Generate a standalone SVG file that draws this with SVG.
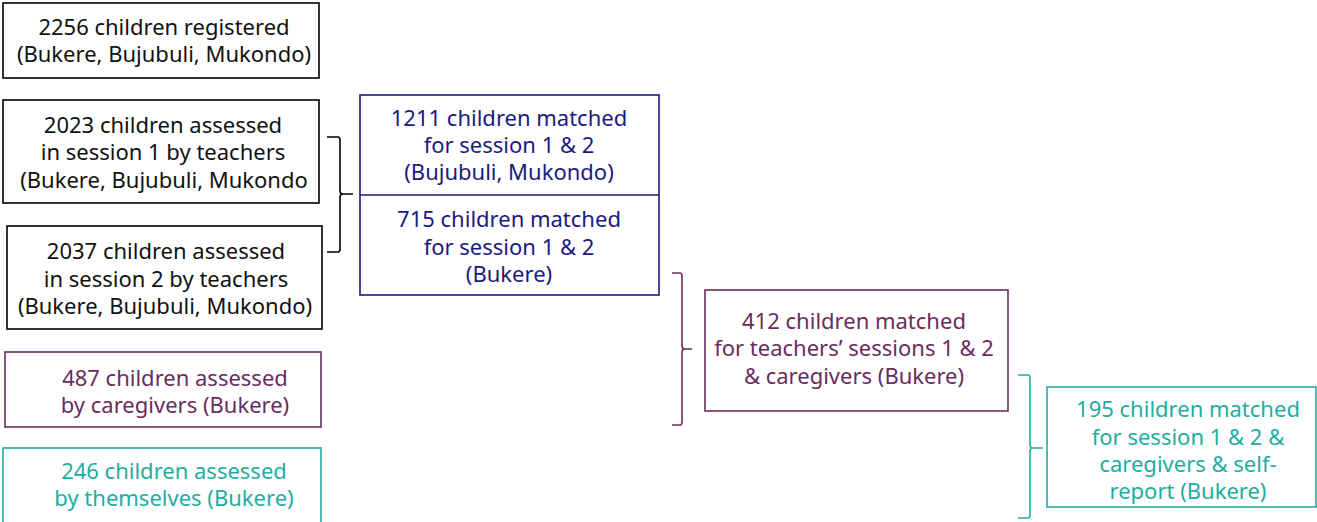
<svg xmlns="http://www.w3.org/2000/svg" width="1317" height="522" viewBox="0 0 1317 522">
<style>
text{font-family:"Noto Sans","Liberation Sans",sans-serif;font-size:22px;text-anchor:middle}
rect{fill:#fff;stroke-width:1.6}
.k rect{stroke:#000}.k text{fill:#111}
.b rect{stroke:#1c1a80}.b text{fill:#1c1a80}
.p rect{stroke:#6a2c5d}.p text{fill:#6a2c5d}
.t rect{stroke:#22ad9f}.t text{fill:#22ad9f}
.br{fill:none;stroke-width:1.6;stroke-linejoin:round}
</style>
<rect x="0" y="0" width="1317" height="522" fill="#fff" stroke="none"/>
<g id="registered" class="k"><rect x="3" y="3" width="316" height="75"/>
<text x="164" y="35">2256 children registered</text><text x="164" y="62">(Bukere, Bujubuli, Mukondo)</text></g>
<g id="session1" class="k"><rect x="3" y="100" width="316" height="103"/>
<text x="163" y="133">2023 children assessed</text><text x="163" y="160">in session 1 by teachers</text><text x="164" y="188">(Bukere, Bujubuli, Mukondo</text></g>
<g id="session2" class="k"><rect x="7" y="226" width="315" height="103"/>
<text x="166" y="259">2037 children assessed</text><text x="166" y="287">in session 2 by teachers</text><text x="165" y="314">(Bukere, Bujubuli, Mukondo)</text></g>
<g id="caregivers" class="p"><rect x="5" y="352" width="316" height="75"/>
<text x="175" y="386">487 children assessed</text><text x="175" y="413">by caregivers (Bukere)</text></g>
<g id="themselves" class="t"><rect x="3" y="448" width="318" height="80"/>
<text x="174" y="479">246 children assessed</text><text x="174" y="506">by themselves (Bukere)</text></g>
<g id="matched" class="b"><rect x="360" y="95" width="299" height="200"/><line x1="360" y1="195" x2="659" y2="195" stroke="#1c1a80" stroke-width="1.6"/>
<text x="509" y="126">1211 children matched</text><text x="509" y="153">for session 1 &amp; 2</text><text x="509" y="180">(Bujubuli, Mukondo)</text>
<text x="509" y="227">715 children matched</text><text x="509" y="255">for session 1 &amp; 2</text><text x="509" y="282">(Bukere)</text></g>
<g id="matched-caregivers" class="p"><rect x="705" y="290" width="303" height="121"/>
<text x="854" y="329">412 children matched</text><text x="854" y="356">for teachers’ sessions 1 &amp; 2</text><text x="854" y="384">&amp; caregivers (Bukere)</text></g>
<g id="matched-self" class="t"><rect x="1047" y="387" width="269" height="120"/>
<text x="1188" y="417">195 children matched</text><text x="1188" y="445">for session 1 &amp; 2 &amp;</text><text x="1188" y="472">caregivers &amp; self-</text><text x="1188" y="499">report (Bukere)</text></g>
<g id="connectors">
<path class="br" stroke="#000" d="M327,137 H338 Q340,137 340,140 V191 Q340,194 343,194 H353 M343,194 Q340,194 340,197 V249 Q340,252 338,252 H327"/>
<path class="br" stroke="#6a2c5d" d="M672,273 H680 Q682,273 682,276 V346 Q682,349 685,349 H692 M685,349 Q682,349 682,352 V422 Q682,425 680,425 H672"/>
<path class="br" stroke="#22ad9f" d="M1018,375 H1028 Q1030,375 1030,378 V445 Q1030,448 1033,448 H1043 M1033,448 Q1030,448 1030,451 V515 Q1030,518 1028,518 H1018"/>
</g>
</svg>
